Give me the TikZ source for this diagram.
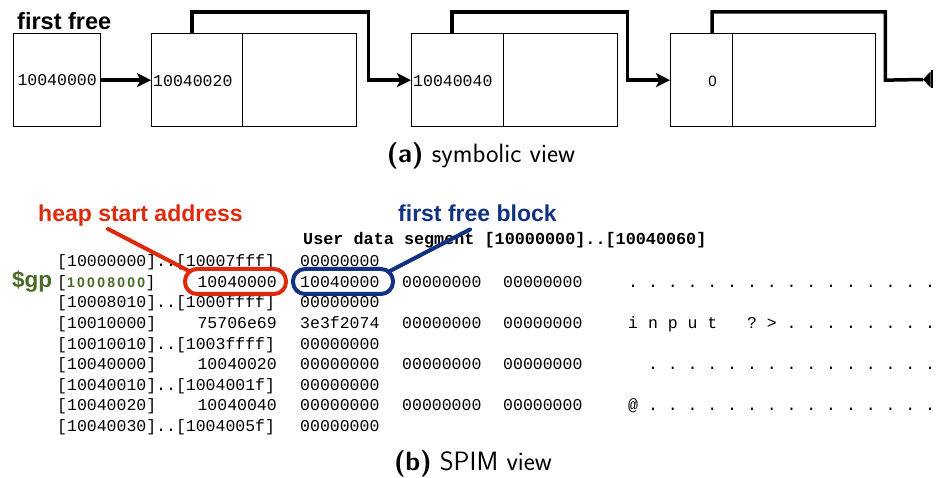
\documentclass[tikz,border=0pt]{standalone}
\usepackage{fontspec}
\setmainfont{Liberation Sans}
\setmonofont{Liberation Mono}
\usetikzlibrary{arrows.meta,calc}
\definecolor{hred}{RGB}{222,42,12}
\definecolor{hblue}{RGB}{16,50,128}
\definecolor{hgreen}{RGB}{72,108,40}
\newcommand\tblfont{\fontsize{16.5}{19}\selectfont\ttfamily}
\newcommand\ttlfont{\fontsize{16.8}{19}\selectfont\ttfamily\bfseries}
\newcommand\lblfont{\fontsize{23}{26}\selectfont\bfseries}
\newcommand\capfont{\fontsize{26.5}{30}\selectfont\sffamily}
\begin{document}
\begin{tikzpicture}[x=1pt,y=-1pt,
  cell/.style={draw, line width=1.3pt, minimum height=93pt, inner sep=0pt, anchor=north west},
  link/.style={line width=3.5pt, -{Stealth[length=14pt,width=14pt,inset=3.5pt]}},
  val/.style={font=\tblfont, inner sep=0pt},
  tx/.style={font=\tblfont, inner sep=0pt, anchor=base west},
  tr/.style={font=\tblfont, inner sep=0pt, anchor=base east},
  lbl/.style={font=\lblfont, inner sep=0pt, anchor=base west},
  ring/.style={draw, line width=4pt, rounded corners=12pt, minimum width=101pt, minimum height=25pt, inner sep=0pt},
  callout/.style={line width=4pt, line cap=round},
  captext/.style={font=\capfont, inner sep=0pt, anchor=base}
]
\fill[white] (0,0) rectangle (937,478);
\useasboundingbox (0,0) rectangle (937,478);
\clip (0,0) rectangle (937,478);

% ---------- (a) symbolic view ----------
\node[lbl] (ff) at (17,30) {\fontsize{23.5}{26}\selectfont first free};
\node[cell, minimum width=87pt] (b1) at (13,33) {};
\node[val] at (b1.center) {10040000};

\node[cell, minimum width=114pt] (b2r) at (242,33) {};
\node[cell, minimum width=91pt, fill=white] (b2l) at (151,33) {};
\node[val, anchor=west] at ($(b2l.west)+(2,1)$) {10040020};

\node[cell, minimum width=114pt] (b3r) at (503,33) {};
\node[cell, minimum width=92pt, fill=white] (b3l) at (411,33) {};
\node[val, anchor=west] at ($(b3l.west)+(2,1)$) {10040040};

\node[cell, minimum width=143pt] (b4r) at (732,33) {};
\node[cell, minimum width=62pt, fill=white] (b4l) at (670,33) {};
\node[inner sep=0pt, font=\fontsize{15}{17}\selectfont] at ($(b4l.center)+(11,1)$) {0};

\coordinate (nil) at (923,79.5);

\draw[link] (b1.east) -- (b2l.west);
\draw[link] ($(b2l.north west)+(41,0)$) -- ++(0,-21) -| ($(b2r.east)+(11,0)$) -- (b3l.west);
\draw[link] ($(b3l.north west)+(41,0)$) -- ++(0,-21) -| ($(b3r.east)+(9,0)$) -- (b4l.west);
\draw[line width=3.5pt] ($(b4l.north west)+(42,0)$) -- ++(0,-21) -| ($(b4r.east)+(9,0)$) -- (nil);
\fill (nil) -- ++(7.5,-8) -- ++(0,16) -- cycle;
\draw[line width=2pt] ($(nil)+(8.8,-9)$) -- ++(0,18);

\node[captext] (capa) at (481,163) {\textbf{(a)} symbolic view};

% ---------- (b) SPIM view ----------
\node[lbl, text=hred] (hsa) at (38,222) {heap start address};
\node[lbl, text=hblue] (ffb) at (398,222) {first free block};

\node[inner sep=0pt, anchor=base west, font=\ttlfont] (ttl) at (303,245) {User data segment [10000000]..[10040060]};

% row 0
\node[tx] at (57,267) {[10000000]..[10007fff]};
\node[tx] at (300,267) {00000000};
% row 1 ($gp)
\node[lbl, text=hgreen, font=\fontsize{22.5}{26}\selectfont\bfseries] (gp) at (12,287.5) {\$gp};
\node[tx] at (57,287.5) {[};
\node[inner sep=0pt, anchor=base west, text=hgreen, font=\fontsize{14}{16}\selectfont\bfseries] at (67,287.5) {\makebox[78pt][s]{1\hfil 0\hfil 0\hfil 0\hfil 8\hfil 0\hfil 0\hfil 0}};
\node[tx] at (145.5,287.5) {]};
\node[tr] (hv) at (277,287.5) {10040000};
\node[tx] (fv) at (300,287.5) {10040000};
\node[tx] at (402,287.5) {00000000};
\node[tx] at (503,287.5) {00000000};
\node[tx] at (628,287.5) {.~.~.~.~.~.~.~.~.~.~.~.~.~.~.~.};
% row 2
\node[tx] at (57,308) {[10008010]..[1000ffff]};
\node[tx] at (300,308) {00000000};
% row 3
\node[tx] at (57,328.5) {[10010000]};
\node[tr] at (277,328.5) {75706e69};
\node[tx] at (300,328.5) {3e3f2074};
\node[tx] at (402,328.5) {00000000};
\node[tx] at (503,328.5) {00000000};
\node[tx] at (628,328.5) {i~n~p~u~t~~~?~>~.~.~.~.~.~.~.~.};
% row 4
\node[tx] at (57,349) {[10010010]..[1003ffff]};
\node[tx] at (300,349) {00000000};
% row 5
\node[tx] at (57,369.5) {[10040000]};
\node[tr] at (277,369.5) {10040020};
\node[tx] at (300,369.5) {00000000};
\node[tx] at (402,369.5) {00000000};
\node[tx] at (503,369.5) {00000000};
\node[tx] at (647.8,369.5) {.~.~.~.~.~.~.~.~.~.~.~.~.~.~.};
% row 6
\node[tx] at (57,390) {[10040010]..[1004001f]};
\node[tx] at (300,390) {00000000};
% row 7
\node[tx] at (57,410.5) {[10040020]};
\node[tr] at (277,410.5) {10040040};
\node[tx] at (300,410.5) {00000000};
\node[tx] at (402,410.5) {00000000};
\node[tx] at (503,410.5) {00000000};
\node[tx] at (628,410.5) {@~.~.~.~.~.~.~.~.~.~.~.~.~.~.~.};
% row 8
\node[tx] at (57,431) {[10040030]..[1004005f]};
\node[tx] at (300,431) {00000000};

% highlight rings and callouts
\node[ring, draw=hred] (rbox) at (235.5,281.5) {};
\node[ring, draw=hblue, minimum width=100pt] (bbox) at (343,281.5) {};
\draw[callout, hred] ($(hsa.south west)+(70,2)$) -- ($(rbox.north west)+(6,4)$);
\draw[callout, hblue] ($(bbox.north east)+(-5,4)$) -- ($(ffb.south west)+(72,7)$);

\node[captext] (capb) at (473,470) {\textbf{(b)} SPIM view};
\end{tikzpicture}
\end{document}
